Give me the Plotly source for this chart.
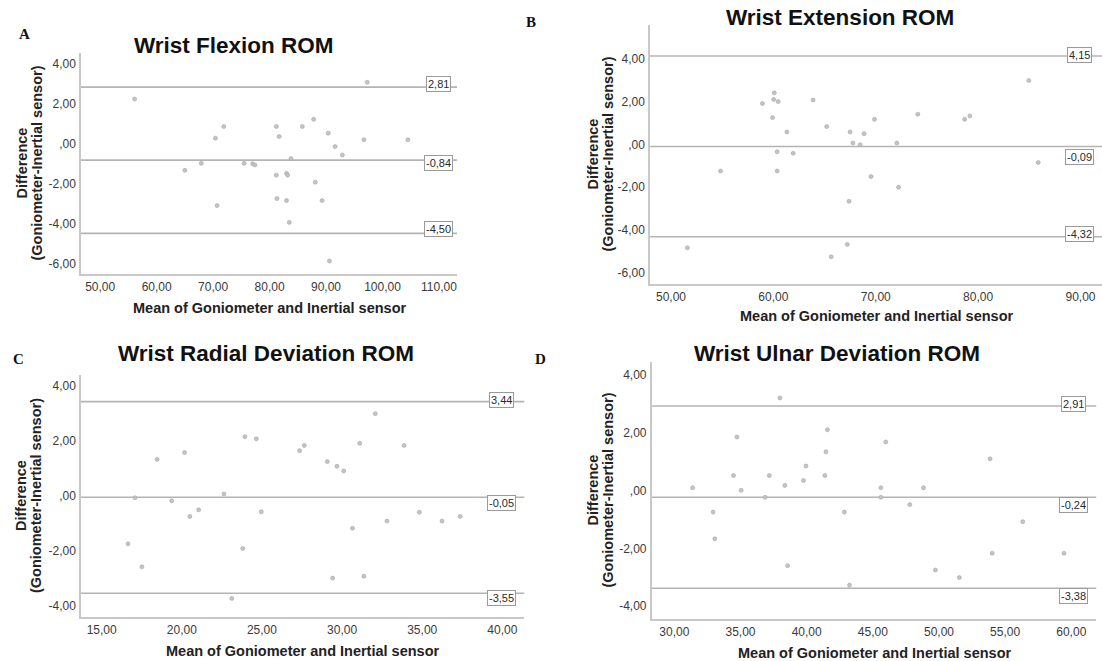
import plotly.graph_objects as go

W, H = 1102, 661

# ---------------- data ----------------
# A: wrist flexion
flex_mean = [56.1, 65.0, 67.9, 70.4, 71.9, 70.7, 75.5, 77.0, 77.4, 81.2, 81.7, 81.2, 81.3,
             83.0, 83.2, 83.8, 83.0, 83.5, 85.8, 87.8, 88.1, 89.3, 90.4, 90.6, 91.6, 92.9,
             96.7, 97.3, 104.5]
flex_diff = [2.21, -1.35, -1.00, 0.26, 0.84, -3.11, -1.00, -1.02, -1.08, 0.84, 0.34, -1.59, -2.76,
             -1.50, -1.59, -0.76, -2.86, -3.95, 0.84, 1.20, -1.94, -2.86, 0.51, -5.88, -0.16, -0.58,
             0.18, 3.05, 0.18]
flex_limits = [2.81, -0.84, -4.50]
flex_limit_labels = ["2,81", "-0,84", "-4,50"]
flex_xticks = [50, 60, 70, 80, 90, 100, 110]
flex_xticktext = ["50,00", "60,00", "70,00", "80,00", "90,00", "100,00", "110,00"]
flex_yticks = [4, 2, 0, -2, -4, -6]
flex_yticktext = ["4,00", "2,00", ",00", "-2,00", "-4,00", "-6,00"]

# B: wrist extension
ext_mean = [51.6, 54.84, 58.93, 60.09, 60.03, 60.47, 59.92, 60.37, 60.37, 61.32, 61.94, 63.88,
            65.21, 67.49, 67.77, 68.48, 68.86, 67.39, 67.22, 65.65, 69.54, 69.88, 72.06, 72.23,
            74.11, 78.68, 79.19, 84.95, 85.87]
ext_diff = [-4.84, -1.24, 1.92, 2.42, 2.11, 2.01, 1.26, -0.34, -1.24, 0.59, -0.41, 2.09,
            0.84, 0.59, 0.07, -0.01, 0.51, -2.66, -4.68, -5.26, -1.50, 1.18, 0.07, -2.00,
            1.42, 1.18, 1.34, 3.00, -0.84]
ext_limits = [4.15, -0.09, -4.32]
ext_limit_labels = ["4,15", "-0,09", "-4,32"]
ext_xticks = [50, 60, 70, 80, 90]
ext_xticktext = ["50,00", "60,00", "70,00", "80,00", "90,00"]
ext_yticks = [4, 2, 0, -2, -4, -6]
ext_yticktext = ["4,00", "2,00", ",00", "-2,00", "-4,00", "-6,00"]

# C: wrist radial deviation
rad_mean = [16.64, 17.08, 17.51, 18.46, 19.37, 20.17, 20.50, 21.05, 22.63, 23.12, 23.80, 23.94,
            24.65, 24.96, 27.35, 27.64, 29.08, 29.41, 29.68, 30.10, 30.65, 31.10, 31.36, 32.07,
            32.80, 33.87, 34.82, 36.24, 37.37]
rad_diff = [-1.75, -0.07, -2.59, 1.33, -0.18, 1.58, -0.75, -0.51, 0.07, -3.74, -1.92, 2.16,
            2.08, -0.58, 1.65, 1.84, 1.25, -3.00, 1.08, 0.91, -1.18, 1.92, -2.93, 3.00,
            -0.92, 1.84, -0.60, -0.92, -0.75]
rad_limits = [3.44, -0.05, -3.55]
rad_limit_labels = ["3,44", "-0,05", "-3,55"]
rad_xticks = [15, 20, 25, 30, 35, 40]
rad_xticktext = ["15,00", "20,00", "25,00", "30,00", "35,00", "40,00"]
rad_yticks = [4, 2, 0, -2, -4]
rad_yticktext = ["4,00", "2,00", ",00", "-2,00", "-4,00"]

# D: wrist ulnar deviation
uln_mean = [31.38, 32.93, 33.06, 34.47, 34.73, 35.05, 36.86, 37.18, 37.98, 38.35, 38.56, 39.76,
            39.95, 41.38, 41.46, 41.57, 42.85, 43.24, 45.61, 45.61, 45.98, 47.79, 48.83, 49.73,
            51.54, 53.86, 54.02, 56.33, 59.45]
uln_diff = [0.09, -0.75, -1.67, 0.51, 1.84, 0.00, -0.24, 0.51, 3.19, 0.17, -2.60, 0.34,
            0.84, 0.51, 1.33, 2.09, -0.75, -3.27, 0.09, -0.24, 1.67, -0.49, 0.09, -2.75,
            -3.01, 1.09, -2.17, -1.08, -2.17]
uln_limits = [2.91, -0.24, -3.38]
uln_limit_labels = ["2,91", "-0,24", "-3,38"]
uln_xticks = [30, 35, 40, 45, 50, 55, 60]
uln_xticktext = ["30,00", "35,00", "40,00", "45,00", "50,00", "55,00", "60,00"]
uln_yticks = [4, 2, 0, -2, -4]
uln_yticktext = ["4,00", "2,00", ",00", "-2,00", "-4,00"]

titles = ["Wrist Flexion ROM", "Wrist Extension ROM",
          "Wrist Radial Deviation ROM", "Wrist Ulnar Deviation ROM"]
letters = ["A", "B", "C", "D"]
x_title = "Mean of Goniometer and Inertial sensor"
y_title_lines = ["Difference", "(Goniometer-Inertial sensor)"]

# ---------------- layout geometry (pixels) ----------------
panels = [
    dict(mean=flex_mean, diff=flex_diff, lim=flex_limits, lab=flex_limit_labels,
         xt=flex_xticks, xtt=flex_xticktext, yt=flex_yticks, ytt=flex_yticktext,
         box=(81, 457, 52.7, 274), xr=[46.6, 113.2], yr=[-6.53, 4.53],
         lab_x=438.5, lab_dy=[-3, 2.5, -4],
         title_xy=(233.6, 45), letter_xy=(24, 34), ytitle_xy=(29, 163), xtitle_xy=(269, 308)),
    dict(mean=ext_mean, diff=ext_diff, lim=ext_limits, lab=ext_limit_labels,
         xt=ext_xticks, xtt=ext_xticktext, yt=ext_yticks, ytt=ext_yticktext,
         box=(650, 1102, 25, 284.3), xr=[47.95, 92.1], yr=[-6.55, 5.60],
         lab_x=1079.5, lab_dy=[-0.5, 11, -3],
         title_xy=(840, 17), letter_xy=(531, 22), ytitle_xy=(600, 154), xtitle_xy=(876, 316)),
    dict(mean=rad_mean, diff=rad_diff, lim=rad_limits, lab=rad_limit_labels,
         xt=rad_xticks, xtt=rad_xticktext, yt=rad_yticks, ytt=rad_yticktext,
         box=(81, 524.3, 375, 617.3), xr=[13.71, 41.37], yr=[-4.43, 4.41],
         lab_x=501.5, lab_dy=[-1.5, 6, 5],
         title_xy=(266, 353), letter_xy=(18, 359), ytitle_xy=(28.5, 496), xtitle_xy=(302.5, 651)),
    dict(mean=uln_mean, diff=uln_diff, lim=uln_limits, lab=uln_limit_labels,
         xt=uln_xticks, xtt=uln_xticktext, yt=uln_yticks, ytt=uln_yticktext,
         box=(651.7, 1096.3, 361.7, 619.3), xr=[28.29, 61.89], yr=[-4.45, 4.44],
         lab_x=1073.7, lab_dy=[-2, 7.5, 8],
         title_xy=(837.4, 353), letter_xy=(540, 359), ytitle_xy=(600, 490), xtitle_xy=(874, 652.7)),
]

SANS = "Liberation Sans, Arial, sans-serif"
SERIF = "Liberation Serif, Times New Roman, serif"
LINE_GREY = "#b4b4b4"
AXIS_GREY = "#c8c8c8"
YTITLE_GAP = 15  # px between the two rotated title lines


def px(x):
    return x / W


def py(y):
    return 1 - y / H


fig = go.Figure()
shapes, annotations = [], []
layout_axes = {}

for i, p in enumerate(panels):
    s = "" if i == 0 else str(i + 1)
    l, r, t, b = p["box"]
    fig.add_trace(go.Scatter(
        x=p["mean"], y=p["diff"], mode="markers", xaxis="x" + s, yaxis="y" + s,
        marker=dict(symbol="circle", size=4, color="#c4c4c4",
                    line=dict(color="#a6a6a6", width=0.6)),
        showlegend=False, hoverinfo="x+y"))

    layout_axes["xaxis" + s] = dict(
        domain=[px(l), px(r)], range=p["xr"], anchor="y" + s,
        showline=True, linecolor=AXIS_GREY, linewidth=1.5, showgrid=False, zeroline=False,
        tickmode="array", tickvals=p["xt"], ticktext=p["xtt"],
        ticks="outside", ticklen=1, tickcolor="rgba(0,0,0,0)",
        tickfont=dict(family=SANS, size=12, color="#3a3a3a"))
    layout_axes["yaxis" + s] = dict(
        domain=[py(b), py(t)], range=p["yr"], anchor="x" + s,
        showline=True, linecolor=AXIS_GREY, linewidth=1.5, showgrid=False, zeroline=False,
        tickmode="array", tickvals=p["yt"], ticktext=p["ytt"],
        ticks="outside", ticklen=1, tickcolor="rgba(0,0,0,0)",
        tickfont=dict(family=SANS, size=12, color="#3a3a3a"))

    xdom = ("x" if i == 0 else "x" + s) + " domain"
    for v, lab, dy in zip(p["lim"], p["lab"], p["lab_dy"]):
        shapes.append(dict(type="line", xref=xdom, x0=0, x1=1, yref="y" + s, y0=v, y1=v,
                           line=dict(color=LINE_GREY, width=1.6), layer="below"))
        annotations.append(dict(
            text=lab, xref="paper", x=px(p["lab_x"]), yref="y" + s, y=v, yshift=-dy,
            showarrow=False, xanchor="center", yanchor="middle",
            font=dict(family=SANS, size=11, color="#2a2a2a"),
            bgcolor="white", bordercolor="#9a9a9a", borderwidth=1, borderpad=1))

    tx, ty = p["title_xy"]
    annotations.append(dict(text="<b>%s</b>" % titles[i], xref="paper", yref="paper",
                            x=px(tx), y=py(ty), showarrow=False, xanchor="center",
                            yanchor="middle",
                            font=dict(family=SANS, size=22.5, color="#111111")))
    lx, ly = p["letter_xy"]
    annotations.append(dict(text="<b>%s</b>" % letters[i], xref="paper", yref="paper",
                            x=px(lx), y=py(ly), showarrow=False, xanchor="center",
                            yanchor="middle", font=dict(family=SERIF, size=15, color="#111111")))
    yx, yy = p["ytitle_xy"]
    for k, line in enumerate(y_title_lines):
        annotations.append(dict(text="<b>%s</b>" % line, xref="paper", yref="paper",
                                x=px(yx + (k - 0.5) * YTITLE_GAP), y=py(yy),
                                showarrow=False, textangle=-90,
                                xanchor="center", yanchor="middle",
                                font=dict(family=SANS, size=14.5, color="#222222")))
    xx, xy = p["xtitle_xy"]
    annotations.append(dict(text="<b>%s</b>" % x_title, xref="paper", yref="paper",
                            x=px(xx), y=py(xy), showarrow=False,
                            xanchor="center", yanchor="middle",
                            font=dict(family=SANS, size=14.5, color="#222222")))

fig.update_layout(
    width=W, height=H, autosize=False,
    margin=dict(l=0, r=0, t=0, b=0),
    paper_bgcolor="white", plot_bgcolor="white",
    shapes=shapes, annotations=annotations,
    **layout_axes)

fig.write_html("out.html")
